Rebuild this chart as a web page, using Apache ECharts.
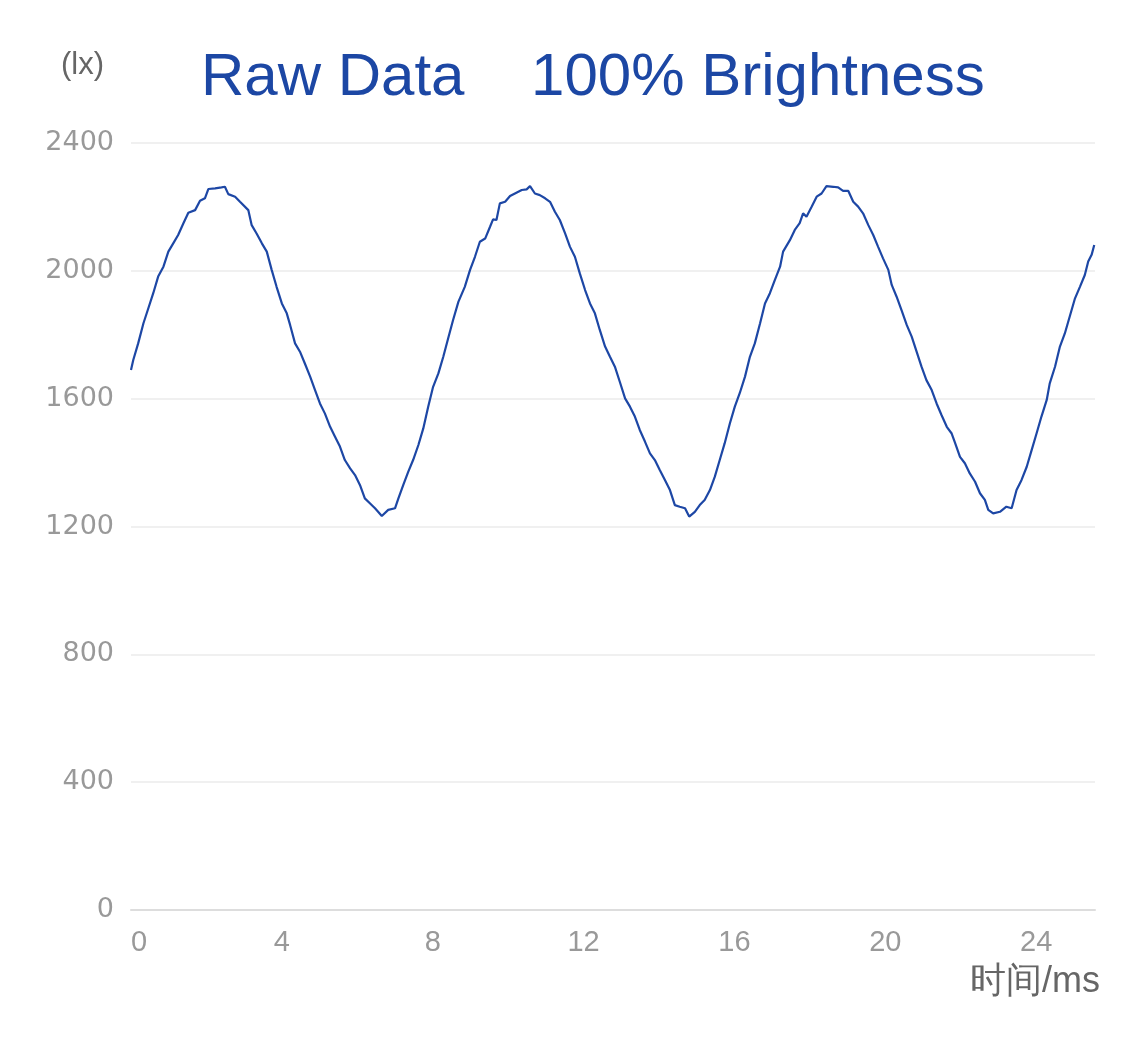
<!DOCTYPE html>
<html>
<head>
<meta charset="utf-8">
<script src="https://cdn.jsdelivr.net/npm/echarts@6/dist/echarts.min.js"></script>
<style>
html,body{margin:0;padding:0;background:#fff;}
#chart{width:1125px;height:1040px;}
</style>
</head>
<body>
<div id="chart"></div>
<script>
var titleText = 'Raw Data    100% Brightness';
var yAxisName = '(lx)';
var xAxisName = '时间/ms';
var xTicks = [0, 4, 8, 12, 16, 20, 24];
var yTicks = [0, 400, 800, 1200, 1600, 2000, 2400];

var timeMs = [
0, 0.06, 0.19, 0.33, 0.46, 0.59, 0.72, 0.86, 0.99, 1.12, 1.25, 1.39, 1.52, 1.70, 1.83, 1.96, 2.05, 2.23, 2.40, 2.49,
2.58, 2.76, 2.89, 3.11, 3.20, 3.33, 3.47, 3.60, 3.73, 3.86, 4.00, 4.13, 4.22, 4.35, 4.48, 4.61, 4.75, 4.88, 5.01, 5.14,
5.28, 5.41, 5.54, 5.67, 5.81, 5.94, 6.07, 6.20, 6.34, 6.47, 6.65, 6.82, 7.00, 7.09, 7.22, 7.35, 7.48, 7.62, 7.75, 7.88,
8.01, 8.15, 8.28, 8.41, 8.54, 8.68, 8.85, 8.99, 9.12, 9.25, 9.39, 9.52, 9.60, 9.69, 9.78, 9.92, 10.05, 10.18, 10.36, 10.49,
10.58, 10.71, 10.84, 10.98, 11.11, 11.24, 11.37, 11.51, 11.64, 11.77, 11.90, 12.04, 12.17, 12.30, 12.43, 12.57, 12.70, 12.83, 12.96, 13.10,
13.23, 13.36, 13.49, 13.63, 13.76, 13.89, 14.02, 14.16, 14.29, 14.42, 14.55, 14.69, 14.80, 14.95, 15.08, 15.21, 15.35, 15.48, 15.61, 15.74,
15.88, 16.01, 16.14, 16.28, 16.41, 16.54, 16.68, 16.81, 16.94, 17.07, 17.21, 17.29, 17.47, 17.60, 17.73, 17.82, 17.91, 18.05, 18.18, 18.31,
18.44, 18.62, 18.75, 18.88, 19.02, 19.15, 19.28, 19.41, 19.55, 19.68, 19.81, 19.94, 20.08, 20.17, 20.30, 20.43, 20.57, 20.70, 20.83, 20.96,
21.09, 21.23, 21.36, 21.49, 21.63, 21.76, 21.84, 21.98, 22.11, 22.24, 22.38, 22.51, 22.64, 22.73, 22.86, 23.04, 23.21, 23.35, 23.48, 23.61,
23.75, 23.88, 24.01, 24.14, 24.28, 24.36, 24.50, 24.63, 24.76, 24.89, 25.03, 25.16, 25.29, 25.38, 25.47, 25.54
];
var lux = [
1690, 1721, 1773, 1836, 1883, 1930, 1982, 2013, 2060, 2086, 2112, 2149, 2182, 2190, 2219, 2227, 2256, 2258, 2261, 2263,
2240, 2232, 2216, 2190, 2143, 2117, 2086, 2060, 2003, 1950, 1898, 1867, 1830, 1773, 1747, 1710, 1669, 1627, 1585, 1554,
1512, 1481, 1450, 1408, 1382, 1361, 1330, 1288, 1272, 1257, 1233, 1252, 1257, 1288, 1330, 1371, 1408, 1455, 1507, 1575,
1637, 1679, 1731, 1789, 1846, 1903, 1950, 2003, 2044, 2091, 2101, 2138, 2161, 2159, 2211, 2216, 2234, 2242, 2253, 2255,
2265, 2242, 2237, 2227, 2216, 2185, 2159, 2117, 2075, 2044, 1992, 1940, 1898, 1867, 1815, 1763, 1731, 1700, 1653, 1601,
1575, 1544, 1502, 1465, 1429, 1408, 1377, 1345, 1314, 1267, 1262, 1257, 1231, 1246, 1267, 1283, 1314, 1356, 1408, 1460,
1523, 1575, 1617, 1669, 1731, 1773, 1836, 1898, 1930, 1971, 2013, 2060, 2096, 2128, 2149, 2180, 2169, 2201, 2232, 2242,
2265, 2263, 2261, 2250, 2250, 2216, 2201, 2180, 2143, 2112, 2075, 2039, 2003, 1956, 1919, 1877, 1830, 1794, 1747, 1700,
1658, 1627, 1585, 1549, 1512, 1491, 1465, 1418, 1398, 1366, 1340, 1304, 1283, 1252, 1241, 1246, 1262, 1257, 1314, 1345,
1387, 1439, 1491, 1544, 1596, 1648, 1700, 1763, 1804, 1857, 1914, 1950, 1987, 2029, 2050, 2081
];

var seriesData = timeMs.map(function (t, i) { return [t, lux[i]]; });
var fontFam = '"Liberation Sans", Arial, sans-serif';

var chart = echarts.init(document.getElementById('chart'), null, {renderer: 'canvas'});
chart.setOption({
  animation: false,
  backgroundColor: '#ffffff',
  title: {
    text: titleText,
    left: 196,
    top: 43,
    textStyle: {color: '#1c47a4', fontSize: 60, fontWeight: 'normal', fontFamily: fontFam}
  },
  grid: {left: 131, right: 30, top: 143, bottom: 130, containLabel: false},
  xAxis: {
    type: 'value',
    min: xTicks[0],
    max: 25.56,
    interval: xTicks[1] - xTicks[0],
    name: xAxisName,
    nameLocation: 'end',
    nameGap: 5,
    nameTextStyle: {color: '#666666', fontSize: 36, align: 'right', verticalAlign: 'top', padding: [54, 0, 0, 0], fontFamily: fontFam},
    axisLine: {show: true, lineStyle: {color: '#dddddd', width: 2}},
    axisTick: {show: false},
    splitLine: {show: false},
    axisLabel: {color: '#999999', fontSize: 29, margin: 18, showMaxLabel: false, alignMinLabel: 'left', fontFamily: fontFam,
      formatter: function (v) { return String(v); }}
  },
  yAxis: {
    type: 'value',
    min: yTicks[0],
    max: yTicks[yTicks.length - 1],
    interval: yTicks[1] - yTicks[0],
    name: yAxisName,
    nameLocation: 'end',
    nameGap: 78,
    nameTextStyle: {color: '#666666', fontSize: 31, align: 'right', verticalAlign: 'middle', padding: [0, 27, 0, 0], fontFamily: fontFam},
    axisLine: {show: false},
    axisTick: {show: false},
    splitLine: {show: true, lineStyle: {color: '#f0f0f0', width: 2}},
    axisLabel: {color: '#999999', fontSize: 27, margin: 17, fontFamily: '"DejaVu Sans", sans-serif',
      formatter: function (v) { return String(v); }}
  },
  series: [{
    type: 'line',
    data: seriesData,
    showSymbol: false,
    symbol: 'none',
    smooth: false,
    lineStyle: {color: '#1d47a5', width: 2.2},
    itemStyle: {color: '#1d47a5'}
  }]
});
</script>
</body>
</html>
